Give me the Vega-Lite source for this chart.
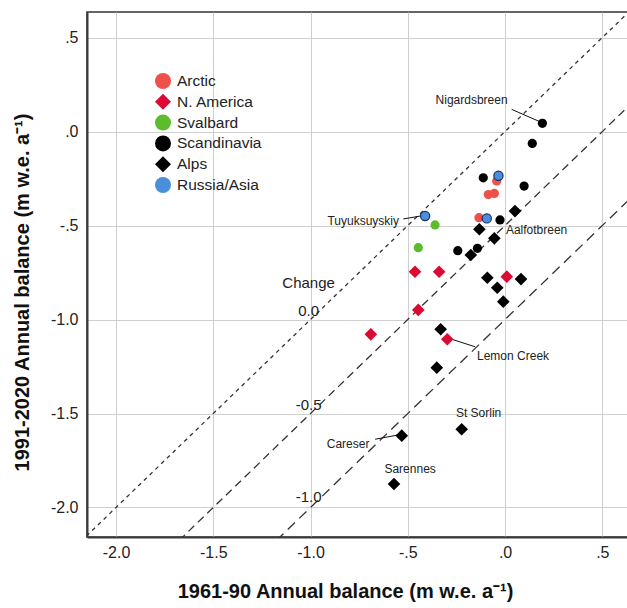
{
  "$schema": "https://vega.github.io/schema/vega-lite/v6.json",
  "width": 541,
  "height": 525,
  "autosize": {"type": "none"},
  "padding": {"left": 87, "top": 12, "right": 0, "bottom": 71},
  "background": "white",
  "config": {
    "font": "Liberation Sans",
    "view": {"stroke": "#333333", "strokeWidth": 1.5},
    "axis": {
      "grid": true,
      "gridColor": "#cfcfcf",
      "gridWidth": 1,
      "ticks": false,
      "domainColor": "#3a3a3a",
      "domainWidth": 2,
      "labelFont": "Liberation Sans",
      "labelFontSize": 16,
      "labelColor": "#222222",
      "titleFont": "Liberation Sans",
      "titleFontSize": 20,
      "titleFontWeight": "bold",
      "titleColor": "#111111"
    }
  },
  "datasets": {
    "diag": [
      {"c": "0.0", "x": -2.3, "y": -2.3, "x2": 0.8, "y2": 0.8},
      {"c": "-0.5", "x": -2.3, "y": -2.8, "x2": 0.8, "y2": 0.3},
      {"c": "-1.0", "x": -2.3, "y": -3.3, "x2": 0.8, "y2": -0.2}
    ],
    "leaders": [
      {"name": "Nigardsbreen", "x": 0.034, "y": 0.118, "x2": 0.18, "y2": 0.052},
      {"name": "Tuyuksuyskiy", "x": -0.523, "y": -0.465, "x2": -0.428, "y2": -0.448},
      {"name": "Lemon Creek", "x": -0.274, "y": -1.105, "x2": -0.154, "y2": -1.145},
      {"name": "Careser", "x": -0.668, "y": -1.637, "x2": -0.549, "y2": -1.614}
    ],
    "points": [
      {"region": "Arctic", "x": -0.043, "y": -0.263},
      {"region": "Arctic", "x": -0.086, "y": -0.335},
      {"region": "Arctic", "x": -0.055, "y": -0.329},
      {"region": "Arctic", "x": -0.134, "y": -0.458},
      {"region": "N. America", "x": -0.463, "y": -0.746},
      {"region": "N. America", "x": -0.339, "y": -0.746},
      {"region": "N. America", "x": 0.009, "y": -0.772},
      {"region": "N. America", "x": -0.446, "y": -0.949},
      {"region": "N. America", "x": -0.297, "y": -1.105},
      {"region": "N. America", "x": -0.69, "y": -1.079},
      {"region": "Svalbard", "x": -0.36, "y": -0.497},
      {"region": "Svalbard", "x": -0.446, "y": -0.618},
      {"region": "Scandinavia", "x": 0.192, "y": 0.044},
      {"region": "Scandinavia", "x": 0.14, "y": -0.063},
      {"region": "Scandinavia", "x": -0.112, "y": -0.246},
      {"region": "Scandinavia", "x": 0.098, "y": -0.29},
      {"region": "Scandinavia", "x": -0.026, "y": -0.47},
      {"region": "Scandinavia", "x": -0.243, "y": -0.634},
      {"region": "Scandinavia", "x": -0.142, "y": -0.621},
      {"region": "Alps", "x": 0.051, "y": -0.423},
      {"region": "Alps", "x": -0.132, "y": -0.52},
      {"region": "Alps", "x": -0.055, "y": -0.568},
      {"region": "Alps", "x": -0.176, "y": -0.657},
      {"region": "Alps", "x": -0.091, "y": -0.778},
      {"region": "Alps", "x": 0.082, "y": -0.785},
      {"region": "Alps", "x": -0.04, "y": -0.831},
      {"region": "Alps", "x": -0.009, "y": -0.905},
      {"region": "Alps", "x": -0.331, "y": -1.052},
      {"region": "Alps", "x": -0.351, "y": -1.256},
      {"region": "Alps", "x": -0.223, "y": -1.584},
      {"region": "Alps", "x": -0.531, "y": -1.618},
      {"region": "Alps", "x": -0.571, "y": -1.875},
      {"region": "Russia/Asia", "x": -0.411, "y": -0.449},
      {"region": "Russia/Asia", "x": -0.034, "y": -0.235},
      {"region": "Russia/Asia", "x": -0.094, "y": -0.462}
    ],
    "names": [
      {"name": "Nigardsbreen", "x": -0.172, "y": 0.168},
      {"name": "Tuyuksuyskiy", "x": -0.729, "y": -0.474},
      {"name": "Aalfotbreen", "x": 0.162, "y": -0.524},
      {"name": "Lemon Creek", "x": 0.041, "y": -1.194},
      {"name": "St Sorlin", "x": -0.136, "y": -1.499},
      {"name": "Careser", "x": -0.807, "y": -1.664},
      {"name": "Sarennes", "x": -0.488, "y": -1.797}
    ],
    "change": [
      {"t": "Change", "x": -1.01, "y": -0.807},
      {"t": "0.0", "x": -1.01, "y": -0.953},
      {"t": "-0.5", "x": -1.01, "y": -1.455},
      {"t": "-1.0", "x": -1.01, "y": -1.944}
    ]
  },
  "encoding": {
    "x": {
      "field": "x",
      "type": "quantitative",
      "title": "1961-90 Annual balance (m w.e. a⁻¹)",
      "scale": {"domain": [-2.149, 0.632], "nice": false, "zero": false},
      "axis": {
        "values": [-2, -1.5, -1, -0.5, 0, 0.5],
        "labelExpr": "datum.value === -2 ? '-2.0' : datum.value === -1.5 ? '-1.5' : datum.value === -1 ? '-1.0' : datum.value === -0.5 ? '-.5' : datum.value === 0 ? '.0' : '.5'",
        "labelPadding": 7,
        "titlePadding": 21,
        "titleX": 258
      }
    },
    "y": {
      "field": "y",
      "type": "quantitative",
      "title": "1991-2020 Annual balance (m w.e. a⁻¹)",
      "scale": {"domain": [-2.157, 0.636], "nice": false, "zero": false},
      "axis": {
        "values": [-2, -1.5, -1, -0.5, 0, 0.5],
        "labelExpr": "datum.value === -2 ? '-2.0' : datum.value === -1.5 ? '-1.5' : datum.value === -1 ? '-1.0' : datum.value === -0.5 ? '-.5' : datum.value === 0 ? '.0' : '.5'",
        "labelPadding": 9,
        "titlePadding": 18,
        "titleY": 280
      }
    }
  },
  "layer": [
    {
      "data": {"name": "diag"},
      "mark": {"type": "rule", "clip": true, "color": "#333333", "strokeWidth": 1.3},
      "encoding": {
        "x2": {"field": "x2"},
        "y2": {"field": "y2"},
        "strokeDash": {
          "field": "c",
          "type": "nominal",
          "scale": {"domain": ["0.0", "-0.5", "-1.0"], "range": [[4, 4], [8, 5], [10, 6]]},
          "legend": null
        }
      }
    },
    {
      "data": {"name": "leaders"},
      "mark": {"type": "rule", "color": "#111111", "strokeWidth": 1},
      "encoding": {
        "x2": {"field": "x2"},
        "y2": {"field": "y2"}
      }
    },
    {
      "data": {"name": "points"},
      "mark": {"type": "point", "filled": true, "opacity": 1, "strokeWidth": 1.2},
      "encoding": {
        "color": {
          "field": "region",
          "type": "nominal",
          "scale": {
            "domain": ["Arctic", "N. America", "Svalbard", "Scandinavia", "Alps", "Russia/Asia"],
            "range": ["#f0504a", "#dc0a32", "#5dbb2e", "#000000", "#000000", "#4a8fdc"]
          },
          "legend": {
            "title": null,
            "orient": "none",
            "legendX": 67,
            "legendY": 60,
            "padding": 0,
            "symbolSize": 256,
            "rowPadding": -1.2,
            "labelOffset": 5,
            "labelFont": "Liberation Sans",
            "labelFontSize": 15.5,
            "labelColor": "#222222",
            "encode": {
              "symbols": {
                "update": {
                  "size": {"signal": "datum.value === 'N. America' || datum.value === 'Alps' ? 500 : 256"},
                  "stroke": {"signal": "datum.value === 'Russia/Asia' ? '#1a2f6b' : 'transparent'"},
                  "strokeWidth": {"value": 1.5}
                }
              }
            }
          }
        },
        "shape": {
          "field": "region",
          "type": "nominal",
          "scale": {
            "domain": ["Arctic", "N. America", "Svalbard", "Scandinavia", "Alps", "Russia/Asia"],
            "range": ["circle", "diamond", "circle", "circle", "diamond", "circle"]
          },
          "legend": {
            "title": null,
            "orient": "none",
            "legendX": 67,
            "legendY": 60,
            "padding": 0,
            "symbolSize": 256,
            "rowPadding": -1.2,
            "labelOffset": 5,
            "labelFont": "Liberation Sans",
            "labelFontSize": 15.5,
            "labelColor": "#222222",
            "encode": {
              "symbols": {
                "update": {
                  "size": {"signal": "datum.value === 'N. America' || datum.value === 'Alps' ? 500 : 256"},
                  "stroke": {"signal": "datum.value === 'Russia/Asia' ? '#1a2f6b' : 'transparent'"},
                  "strokeWidth": {"value": 1.5}
                }
              }
            }
          }
        },
        "size": {
          "condition": {"test": "datum.region === 'N. America' || datum.region === 'Alps'", "value": 160},
          "value": 85
        },
        "stroke": {
          "condition": {"test": "datum.region === 'Russia/Asia'", "value": "#1a2f6b"},
          "value": "transparent"
        }
      }
    },
    {
      "data": {"name": "names"},
      "mark": {"type": "text", "font": "Liberation Sans", "fontSize": 12, "color": "#222222", "align": "center", "baseline": "middle"},
      "encoding": {
        "text": {"field": "name"}
      }
    },
    {
      "data": {"name": "change"},
      "mark": {"type": "text", "font": "Liberation Sans", "fontSize": 15, "color": "#222222", "align": "center", "baseline": "middle"},
      "encoding": {
        "text": {"field": "t"}
      }
    }
  ]
}
